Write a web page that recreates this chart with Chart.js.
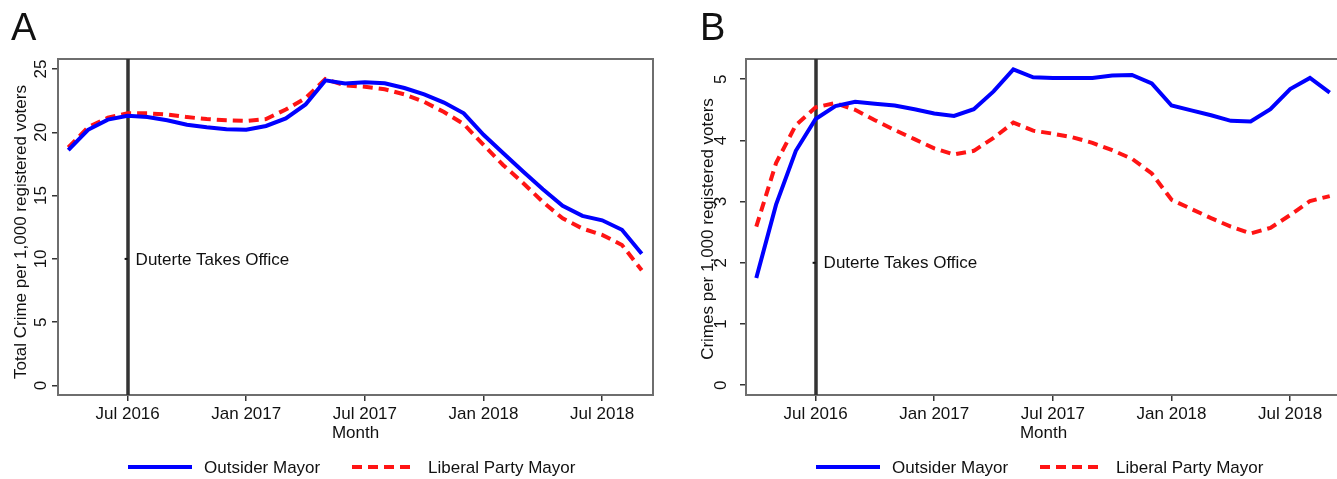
<!DOCTYPE html>
<html>
<head>
<meta charset="utf-8">
<script src="https://cdn.jsdelivr.net/npm/chart.js@4.4.1/dist/chart.umd.min.js"></script>
<style>
html, body { margin: 0; padding: 0; background: #fff; overflow: hidden; width: 1337px; height: 479px; }
canvas { position: absolute; top: 0; }
#chartA { left: 0; }
#chartB { left: 680px; }
</style>
</head>
<body>
<canvas id="chartA" width="665" height="479"></canvas>
<canvas id="chartB" width="680" height="479"></canvas>
<script>
// Months on the x axis (Apr 2016 - Sep 2018)
const months = [
    'Apr 2016', 'May 2016', 'Jun 2016', 'Jul 2016', 'Aug 2016', 'Sep 2016', 'Oct 2016', 'Nov 2016', 'Dec 2016',
    'Jan 2017', 'Feb 2017', 'Mar 2017', 'Apr 2017', 'May 2017', 'Jun 2017', 'Jul 2017', 'Aug 2017', 'Sep 2017',
    'Oct 2017', 'Nov 2017', 'Dec 2017', 'Jan 2018', 'Feb 2018', 'Mar 2018', 'Apr 2018', 'May 2018', 'Jun 2018',
    'Jul 2018', 'Aug 2018', 'Sep 2018'
];
const xTickLabels = ['Jul 2016', 'Jan 2017', 'Jul 2017', 'Jan 2018', 'Jul 2018'];
const eventMonth = 'Jul 2016';
const eventLabel = 'Duterte Takes Office';

// Panel A: total crime per 1,000 registered voters
const outsiderA = [18.6, 20.2, 21.0, 21.3, 21.2, 20.95, 20.6, 20.4, 20.25, 20.2, 20.5, 21.1, 22.2, 24.1, 23.85,
    23.95, 23.87, 23.5, 23.0, 22.35, 21.5, 19.8, 18.35, 16.9, 15.5, 14.2, 13.4, 13.05, 12.3, 10.4];
const liberalA = [18.8, 20.4, 21.15, 21.5, 21.5, 21.4, 21.2, 21.05, 20.95, 20.9, 21.05, 21.8, 22.7, 24.2, 23.7,
    23.6, 23.4, 23.0, 22.4, 21.6, 20.65, 19.0, 17.4, 16.0, 14.5, 13.2, 12.4, 11.9, 11.1, 9.1];
const yTicksA = [0, 5, 10, 15, 20, 25];
const eventTextYA = 10;

// Panel B: crimes per 1,000 registered voters
const outsiderB = [1.75, 2.95, 3.83, 4.35, 4.56, 4.63, 4.60, 4.57, 4.51, 4.44, 4.40, 4.51, 4.80, 5.16, 5.03,
    5.02, 5.02, 5.02, 5.06, 5.07, 4.93, 4.57, 4.49, 4.41, 4.32, 4.31, 4.51, 4.84, 5.02, 4.78];
const liberalB = [2.59, 3.63, 4.25, 4.54, 4.61, 4.50, 4.33, 4.17, 4.02, 3.87, 3.77, 3.83, 4.04, 4.29, 4.16,
    4.11, 4.05, 3.96, 3.84, 3.70, 3.46, 3.03, 2.88, 2.73, 2.59, 2.48, 2.57, 2.78, 3.01, 3.09];
const yTicksB = [0, 1, 2, 3, 4, 5];
const eventTextYB = 2;

const seriesNames = ['Outsider Mayor', 'Liberal Party Mayor'];

const FONT = 'Helvetica, Arial, "Liberation Sans", sans-serif';
const FS = 17;

const toPoints = (arr) => arr.map((v, i) => ({ x: i, y: v }));

// Stata-like decorations: frame, event line, rotated y labels, titles, legend
const stataPlugin = {
    id: 'stata',
    beforeDatasetsDraw(chart, args, opts) {
        const { ctx, chartArea: a, scales } = chart;
        ctx.save();
        ctx.strokeStyle = '#6e6e6e';
        ctx.lineWidth = 2;
        ctx.strokeRect(a.left, a.top, a.right - a.left, a.bottom - a.top);
        // event line
        const ex = Math.round(scales.x.getPixelForValue(months.indexOf(eventMonth)));
        ctx.strokeStyle = '#333';
        ctx.lineWidth = 3.5;
        ctx.beginPath();
        ctx.moveTo(ex, a.top);
        ctx.lineTo(ex, a.bottom);
        ctx.stroke();
        ctx.restore();
    },
    afterDraw(chart, args, opts) {
        const { ctx, chartArea: a, scales } = chart;
        ctx.save();
        ctx.fillStyle = '#111';
        // event label
        const ex = scales.x.getPixelForValue(months.indexOf(eventMonth));
        const ey = scales.y.getPixelForValue(opts.eventY);
        ctx.fillRect(ex - 3, ey - 1, 3, 2);
        ctx.font = FS + 'px ' + FONT;
        ctx.textAlign = 'left';
        ctx.textBaseline = 'middle';
        ctx.fillText(eventLabel, ex + 8, ey + 1);

        // rotated y tick labels (baseline on the right side)
        ctx.textAlign = 'center';
        ctx.textBaseline = 'alphabetic';
        scales.y.ticks.forEach(t => {
            const py = scales.y.getPixelForValue(t.value);
            ctx.save();
            ctx.translate(opts.yLabelX, py);
            ctx.rotate(-Math.PI / 2);
            ctx.fillText(String(t.value), 0, 0);
            ctx.restore();
        });

        // y axis title
        ctx.save();
        ctx.translate(opts.yTitleX, opts.yTitleY);
        ctx.rotate(-Math.PI / 2);
        ctx.fillText(opts.yTitle, 0, 0);
        ctx.restore();

        // x axis title
        ctx.textBaseline = 'middle';
        ctx.fillText('Month', (a.left + a.right) / 2, 433);

        // panel letter
        ctx.font = '38px ' + FONT;
        ctx.textAlign = 'left';
        ctx.textBaseline = 'alphabetic';
        ctx.fillText(opts.letter, opts.letterX, 40);

        // legend
        ctx.font = FS + 'px ' + FONT;
        ctx.textBaseline = 'middle';
        chart.data.datasets.forEach((ds, i) => {
            const lx = opts.legendX[i];
            ctx.save();
            ctx.strokeStyle = ds.borderColor;
            ctx.lineWidth = ds.borderWidth;
            ctx.setLineDash(ds.borderDash || []);
            ctx.beginPath();
            ctx.moveTo(lx, 467);
            ctx.lineTo(lx + 64, 467);
            ctx.stroke();
            ctx.restore();
            ctx.fillText(ds.label, lx + 76, 468);
        });
        ctx.restore();
    }
};

const makePanel = (id, cfg) => {
    const canvas = document.getElementById(id);
    return new Chart(canvas.getContext('2d'), {
        type: 'line',
        data: {
            datasets: [{
                label: seriesNames[0],
                data: toPoints(cfg.outsider),
                borderColor: '#0000ff',
                borderWidth: 4,
                pointRadius: 0,
                tension: 0
            }, {
                label: seriesNames[1],
                data: toPoints(cfg.liberal),
                borderColor: '#ff1414',
                borderWidth: 4,
                borderDash: [10, 6],
                pointRadius: 0,
                tension: 0
            }]
        },
        options: {
            responsive: false,
            animation: false,
            layout: { padding: { left: 0, top: 59, right: cfg.rightPad, bottom: 0 } },
            plugins: {
                legend: { display: false },
                tooltip: { enabled: false },
                stata: cfg.deco
            },
            scales: {
                x: {
                    type: 'linear',
                    min: -0.52,
                    max: 29.57,
                    afterFit: (s) => { s.height = 84; },
                    afterBuildTicks: (s) => { s.ticks = xTickLabels.map(l => ({ value: months.indexOf(l) })); },
                    ticks: {
                        callback: (v) => months[v],
                        color: '#111',
                        font: { family: FONT, size: FS },
                        padding: 3,
                        maxRotation: 0,
                        autoSkip: false
                    },
                    grid: { drawOnChartArea: false, drawTicks: true, tickLength: 6, color: '#333', lineWidth: 1.5 },
                    border: { display: true, color: '#333', width: 2 }
                },
                y: {
                    min: cfg.yMin,
                    max: cfg.yMax,
                    afterFit: (s) => { s.width = cfg.leftW; },
                    afterBuildTicks: (s) => { s.ticks = cfg.yTicks.map(v => ({ value: v })); },
                    ticks: { display: false },
                    grid: { drawOnChartArea: false, drawTicks: true, tickLength: 6, color: '#333', lineWidth: 1.5 },
                    border: { display: true, color: '#333', width: 2 }
                }
            }
        },
        plugins: [stataPlugin]
    });
};

makePanel('chartA', {
    outsider: outsiderA,
    liberal: liberalA,
    yTicks: yTicksA,
    yMin: -0.75,
    yMax: 25.79,
    leftW: 58,
    rightPad: 12,
    deco: {
        eventY: eventTextYA,
        yLabelX: 46,
        yTitleX: 26,
        yTitleY: 232,
        yTitle: 'Total Crime per 1,000 registered voters',
        letter: 'A',
        letterX: 11,
        legendX: [128, 352]
    }
});

makePanel('chartB', {
    outsider: outsiderB,
    liberal: liberalB,
    yTicks: yTicksB,
    yMin: -0.16,
    yMax: 5.33,
    leftW: 66,
    rightPad: 19,
    deco: {
        eventY: eventTextYB,
        yLabelX: 46,
        yTitleX: 33,
        yTitleY: 229,
        yTitle: 'Crimes per 1,000 registered voters',
        letter: 'B',
        letterX: 20,
        legendX: [136, 360]
    }
});
</script>
</body>
</html>
